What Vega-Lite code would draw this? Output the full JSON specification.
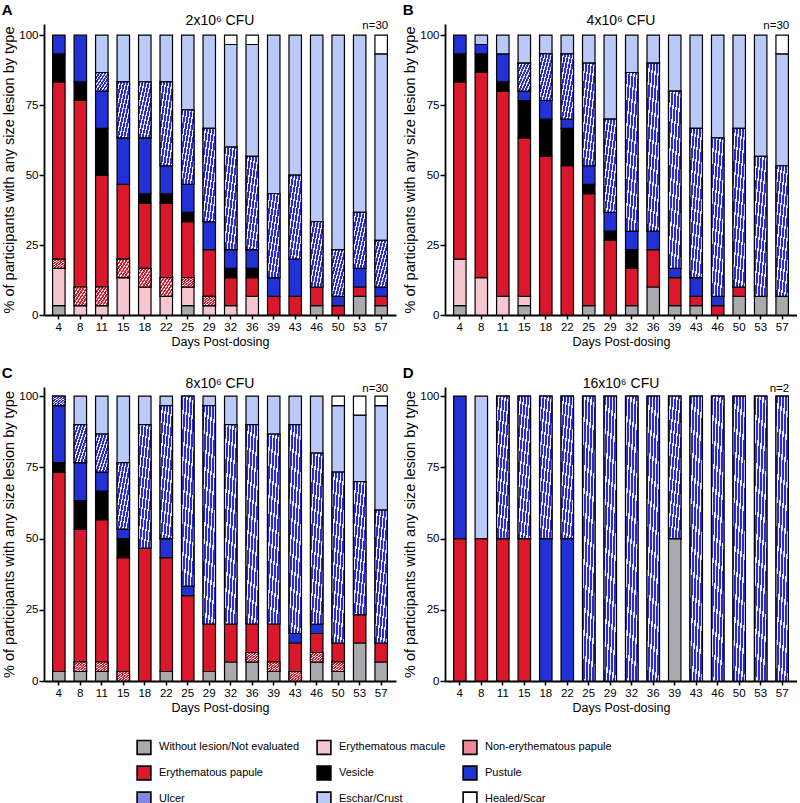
{
  "$schema": "https://vega.github.io/schema/vega-lite/v6.json",
  "background": "white",
  "padding": {"left": 1, "top": 3, "right": 0, "bottom": 0},
  "config": {
    "font": "Liberation Sans",
    "view": {"stroke": null},
    "axis": {"domainColor": "black", "domainWidth": 1.8, "tickColor": "black", "tickWidth": 1.5, "labelColor": "black", "titleColor": "black", "labelFont": "Liberation Sans", "titleFont": "Liberation Sans", "labelFontSize": 11.5, "titleFontWeight": "normal", "grid": false},
    "axisX": {"labelAngle": 0, "tickSize": 4, "labelPadding": 2, "titlePadding": 3, "titleFontSize": 12.5},
    "axisY": {"tickSize": 5, "labelPadding": 1, "titlePadding": 2, "titleFontSize": 14.5}
  },
  "datasets": {
    "types": [
      {"k": "wl", "o": 1, "type": "Without lesion/Not evaluated"},
      {"k": "em", "o": 2, "type": "Erythematous macule"},
      {"k": "np", "o": 3, "type": "Non-erythematous papule"},
      {"k": "ep", "o": 4, "type": "Erythematous papule"},
      {"k": "ve", "o": 5, "type": "Vesicle"},
      {"k": "pu", "o": 6, "type": "Pustule"},
      {"k": "ul", "o": 7, "type": "Ulcer"},
      {"k": "ec", "o": 8, "type": "Eschar/Crust"},
      {"k": "hs", "o": 9, "type": "Healed/Scar"}
    ],
    "A": [
      {"d": 4, "wl": 1, "em": 4, "np": 1, "ep": 19, "ve": 3, "pu": 2},
      {"d": 8, "em": 1, "np": 2, "ep": 20, "ve": 2, "pu": 5},
      {"d": 11, "em": 1, "np": 2, "ep": 12, "ve": 5, "pu": 4, "ul": 2, "ec": 4},
      {"d": 15, "em": 4, "np": 2, "ep": 8, "pu": 5, "ul": 6, "ec": 5},
      {"d": 18, "em": 3, "np": 2, "ep": 7, "ve": 1, "pu": 6, "ul": 6, "ec": 5},
      {"d": 22, "em": 2, "np": 2, "ep": 8, "ve": 1, "pu": 3, "ul": 9, "ec": 5},
      {"d": 25, "wl": 1, "em": 2, "np": 1, "ep": 6, "ve": 1, "pu": 3, "ul": 8, "ec": 8},
      {"d": 29, "em": 1, "np": 1, "ep": 5, "pu": 3, "ul": 10, "ec": 10},
      {"d": 32, "em": 1, "ep": 3, "ve": 1, "pu": 2, "ul": 11, "ec": 11, "hs": 1},
      {"d": 36, "em": 2, "ep": 2, "ve": 1, "pu": 2, "ul": 10, "ec": 12, "hs": 1},
      {"d": 39, "ep": 2, "pu": 2, "ul": 9, "ec": 17},
      {"d": 43, "ep": 2, "pu": 4, "ul": 9, "ec": 15},
      {"d": 46, "wl": 1, "ep": 2, "ul": 7, "ec": 20},
      {"d": 50, "ep": 1, "pu": 1, "ul": 5, "ec": 23},
      {"d": 53, "wl": 2, "ep": 1, "pu": 2, "ul": 6, "ec": 19},
      {"d": 57, "wl": 1, "ep": 1, "pu": 1, "ul": 5, "ec": 20, "hs": 2}
    ],
    "B": [
      {"d": 4, "wl": 1, "em": 5, "ep": 19, "ve": 3, "pu": 2},
      {"d": 8, "em": 4, "ep": 22, "ve": 2, "pu": 1, "ec": 1},
      {"d": 11, "em": 2, "ep": 22, "ve": 1, "pu": 3, "ec": 2},
      {"d": 15, "wl": 1, "em": 1, "ep": 17, "ve": 4, "pu": 1, "ul": 3, "ec": 3},
      {"d": 18, "ep": 17, "ve": 4, "pu": 2, "ul": 5, "ec": 2},
      {"d": 22, "ep": 16, "ve": 4, "pu": 1, "ul": 7, "ec": 2},
      {"d": 25, "wl": 1, "ep": 12, "ve": 1, "pu": 2, "ul": 11, "ec": 3},
      {"d": 29, "ep": 8, "ve": 1, "pu": 2, "ul": 10, "ec": 9},
      {"d": 32, "wl": 1, "ep": 4, "ve": 2, "pu": 2, "ul": 17, "ec": 4},
      {"d": 36, "wl": 3, "ep": 4, "pu": 2, "ul": 18, "ec": 3},
      {"d": 39, "wl": 1, "ep": 3, "pu": 1, "ul": 19, "ec": 6},
      {"d": 43, "wl": 1, "ep": 1, "pu": 2, "ul": 16, "ec": 10},
      {"d": 46, "ep": 1, "pu": 1, "ul": 17, "ec": 11},
      {"d": 50, "wl": 2, "ep": 1, "ul": 17, "ec": 10},
      {"d": 53, "wl": 2, "ul": 15, "ec": 13},
      {"d": 57, "wl": 2, "ul": 14, "ec": 12, "hs": 2}
    ],
    "C": [
      {"d": 4, "wl": 1, "ep": 21, "ve": 1, "pu": 6, "ul": 1},
      {"d": 8, "wl": 1, "np": 1, "ep": 14, "ve": 3, "pu": 4, "ul": 4, "ec": 3},
      {"d": 11, "wl": 1, "np": 1, "ep": 15, "ve": 3, "pu": 2, "ul": 4, "ec": 4},
      {"d": 15, "np": 1, "ep": 12, "ve": 2, "pu": 1, "ul": 7, "ec": 7},
      {"d": 18, "ep": 14, "ul": 13, "ec": 3},
      {"d": 22, "wl": 1, "ep": 12, "pu": 2, "ul": 14, "ec": 1},
      {"d": 25, "ep": 9, "pu": 1, "ul": 20},
      {"d": 29, "wl": 1, "ep": 5, "ul": 23, "ec": 1},
      {"d": 32, "wl": 2, "ep": 4, "ul": 21, "ec": 3},
      {"d": 36, "wl": 2, "np": 1, "ep": 3, "ul": 21, "ec": 3},
      {"d": 39, "wl": 1, "np": 1, "ep": 4, "ul": 20, "ec": 4},
      {"d": 43, "np": 1, "ep": 3, "pu": 1, "ul": 22, "ec": 3},
      {"d": 46, "wl": 2, "np": 1, "ep": 2, "pu": 1, "ul": 18, "ec": 6},
      {"d": 50, "wl": 1, "np": 1, "ep": 2, "ul": 18, "ec": 7, "hs": 1},
      {"d": 53, "wl": 4, "ep": 3, "ul": 14, "ec": 7, "hs": 2},
      {"d": 57, "wl": 2, "ep": 2, "ul": 14, "ec": 11, "hs": 1}
    ],
    "D": [
      {"d": 4, "ep": 1, "pu": 1},
      {"d": 8, "ep": 1, "ec": 1},
      {"d": 11, "ep": 1, "ul": 1},
      {"d": 15, "ep": 1, "ul": 1},
      {"d": 18, "pu": 1, "ul": 1},
      {"d": 22, "pu": 1, "ul": 1},
      {"d": 25, "ul": 2},
      {"d": 29, "ul": 2},
      {"d": 32, "ul": 2},
      {"d": 36, "ul": 2},
      {"d": 39, "wl": 1, "ul": 1},
      {"d": 43, "ul": 2},
      {"d": 46, "ul": 2},
      {"d": 50, "ul": 2},
      {"d": 53, "ul": 2},
      {"d": 57, "ul": 2}
    ]
  },
  "spacing": 18,
  "vconcat": [
    {
      "spacing": 6,
      "hconcat": [
        {
          "title": {"text": "A", "anchor": "start", "fontSize": 15, "fontWeight": "bold", "offset": -4},
          "vconcat": [{
            "title": {"text": "2x10⁶ CFU", "anchor": "middle", "frame": "group", "fontSize": 14, "fontWeight": "normal", "offset": -8},
            "width": 352, "height": 291,
            "layer": [
              {
                "data": {"name": "A"},
                "transform": [
                  {"fold": ["wl", "em", "np", "ep", "ve", "pu", "ul", "ec", "hs"], "as": ["k", "n"]},
                  {"filter": "datum.n > 0"},
                  {"lookup": "k", "from": {"data": {"name": "types"}, "key": "k", "fields": ["type", "o"]}},
                  {"stack": "n", "groupby": ["d"], "sort": [{"field": "o", "order": "ascending"}], "offset": "normalize", "as": ["y0", "y1"]}
                ],
                "layer": [
                  {
                    "mark": {"type": "bar", "stroke": "black", "strokeWidth": 1.2},
                    "encoding": {
                      "x": {"field": "d", "type": "ordinal", "title": "Days Post-dosing", "scale": {"paddingInner": 0.42, "paddingOuter": 0.4}},
                      "y": {"field": "y0", "type": "quantitative", "title": "% of participants with any size lesion by type", "scale": {"domain": [0, 1.04], "nice": false}, "axis": {"values": [0, 0.25, 0.5, 0.75, 1], "labelExpr": "format(datum.value*100,'d')"}},
                      "y2": {"field": "y1"},
                      "color": {
                        "field": "type", "type": "nominal",
                        "scale": {
                          "domain": ["Without lesion/Not evaluated", "Erythematous macule", "Non-erythematous papule", "Erythematous papule", "Vesicle", "Pustule", "Ulcer", "Eschar/Crust", "Healed/Scar"],
                          "range": ["#aaaaae", "#f6c6d1", "#eb8a95", "#d9192b", "#000000", "#2131d6", "#8585e6", "#bacaf8", "#ffffff"]
                        },
                        "legend": {"title": null, "orient": "none", "legendX": 92, "legendY": 715, "direction": "horizontal", "columns": 3, "symbolType": "square", "symbolSize": 190, "labelFontSize": 11, "labelFont": "Liberation Sans", "labelColor": "black", "columnPadding": 13, "rowPadding": 4, "labelOffset": 7, "labelLimit": 300, "symbolOpacity": 1, "symbolStrokeColor": "black", "symbolStrokeWidth": 1.6,
                          "encode": {"symbols": {"update": {"stroke": {"value": "black"}, "strokeWidth": {"value": 1.6}}}}
                        }
                      }
                    }
                  },
                  {
                    "transform": [{"filter": "datum.type === 'Ulcer'"}],
                    "mark": {"type": "bar", "stroke": "black", "strokeWidth": 1.2, "fill": {"gradient": "linear", "x1": 0, "y1": 0, "x2": 1, "y2": 1, "stops": [
                      {"offset": 0, "color": "#2b2bd3"}, {"offset": 0.075, "color": "#2b2bd3"}, {"offset": 0.075, "color": "#eeeeff"}, {"offset": 0.125, "color": "#eeeeff"},
                      {"offset": 0.125, "color": "#2b2bd3"}, {"offset": 0.2, "color": "#2b2bd3"}, {"offset": 0.2, "color": "#eeeeff"}, {"offset": 0.25, "color": "#eeeeff"},
                      {"offset": 0.25, "color": "#2b2bd3"}, {"offset": 0.325, "color": "#2b2bd3"}, {"offset": 0.325, "color": "#eeeeff"}, {"offset": 0.375, "color": "#eeeeff"},
                      {"offset": 0.375, "color": "#2b2bd3"}, {"offset": 0.45, "color": "#2b2bd3"}, {"offset": 0.45, "color": "#eeeeff"}, {"offset": 0.5, "color": "#eeeeff"},
                      {"offset": 0.5, "color": "#2b2bd3"}, {"offset": 0.575, "color": "#2b2bd3"}, {"offset": 0.575, "color": "#eeeeff"}, {"offset": 0.625, "color": "#eeeeff"},
                      {"offset": 0.625, "color": "#2b2bd3"}, {"offset": 0.7, "color": "#2b2bd3"}, {"offset": 0.7, "color": "#eeeeff"}, {"offset": 0.75, "color": "#eeeeff"},
                      {"offset": 0.75, "color": "#2b2bd3"}, {"offset": 0.825, "color": "#2b2bd3"}, {"offset": 0.825, "color": "#eeeeff"}, {"offset": 0.875, "color": "#eeeeff"},
                      {"offset": 0.875, "color": "#2b2bd3"}, {"offset": 0.95, "color": "#2b2bd3"}, {"offset": 0.95, "color": "#eeeeff"}, {"offset": 1, "color": "#eeeeff"}
                    ]}},
                    "encoding": {"x": {"field": "d", "type": "ordinal"}, "y": {"field": "y0", "type": "quantitative"}, "y2": {"field": "y1"}}
                  },
                  {
                    "transform": [{"filter": "datum.type === 'Non-erythematous papule'"}],
                    "mark": {"type": "bar", "stroke": "black", "strokeWidth": 1.2, "fill": {"gradient": "linear", "x1": 0, "y1": 0, "x2": 1, "y2": 1, "stops": [
                      {"offset": 0, "color": "#d9192b"}, {"offset": 0.075, "color": "#d9192b"}, {"offset": 0.075, "color": "#ffe4e8"}, {"offset": 0.125, "color": "#ffe4e8"},
                      {"offset": 0.125, "color": "#d9192b"}, {"offset": 0.2, "color": "#d9192b"}, {"offset": 0.2, "color": "#ffe4e8"}, {"offset": 0.25, "color": "#ffe4e8"},
                      {"offset": 0.25, "color": "#d9192b"}, {"offset": 0.325, "color": "#d9192b"}, {"offset": 0.325, "color": "#ffe4e8"}, {"offset": 0.375, "color": "#ffe4e8"},
                      {"offset": 0.375, "color": "#d9192b"}, {"offset": 0.45, "color": "#d9192b"}, {"offset": 0.45, "color": "#ffe4e8"}, {"offset": 0.5, "color": "#ffe4e8"},
                      {"offset": 0.5, "color": "#d9192b"}, {"offset": 0.575, "color": "#d9192b"}, {"offset": 0.575, "color": "#ffe4e8"}, {"offset": 0.625, "color": "#ffe4e8"},
                      {"offset": 0.625, "color": "#d9192b"}, {"offset": 0.7, "color": "#d9192b"}, {"offset": 0.7, "color": "#ffe4e8"}, {"offset": 0.75, "color": "#ffe4e8"},
                      {"offset": 0.75, "color": "#d9192b"}, {"offset": 0.825, "color": "#d9192b"}, {"offset": 0.825, "color": "#ffe4e8"}, {"offset": 0.875, "color": "#ffe4e8"},
                      {"offset": 0.875, "color": "#d9192b"}, {"offset": 0.95, "color": "#d9192b"}, {"offset": 0.95, "color": "#ffe4e8"}, {"offset": 1, "color": "#ffe4e8"}
                    ]}},
                    "encoding": {"x": {"field": "d", "type": "ordinal"}, "y": {"field": "y0", "type": "quantitative"}, "y2": {"field": "y1"}}
                  }
                ]
              },
              {
                "data": {"values": [{"label": "n=30"}]},
                "mark": {"type": "text", "align": "right", "baseline": "middle", "dx": 7, "dy": 2, "fontSize": 11.5, "font": "Liberation Sans", "color": "black"},
                "encoding": {"x": {"datum": 57, "type": "ordinal"}, "y": {"datum": 1.04, "type": "quantitative"}, "text": {"field": "label"}}
              }
            ]
          }]
        },
        {
          "title": {"text": "B", "anchor": "start", "fontSize": 15, "fontWeight": "bold", "offset": -4},
          "vconcat": [{
            "title": {"text": "4x10⁶ CFU", "anchor": "middle", "frame": "group", "fontSize": 14, "fontWeight": "normal", "offset": -8},
            "width": 352, "height": 291,
            "layer": [
              {
                "data": {"name": "B"},
                "transform": [
                  {"fold": ["wl", "em", "np", "ep", "ve", "pu", "ul", "ec", "hs"], "as": ["k", "n"]},
                  {"filter": "datum.n > 0"},
                  {"lookup": "k", "from": {"data": {"name": "types"}, "key": "k", "fields": ["type", "o"]}},
                  {"stack": "n", "groupby": ["d"], "sort": [{"field": "o", "order": "ascending"}], "offset": "normalize", "as": ["y0", "y1"]}
                ],
                "layer": [
                  {
                    "mark": {"type": "bar", "stroke": "black", "strokeWidth": 1.2},
                    "encoding": {
                      "x": {"field": "d", "type": "ordinal", "title": "Days Post-dosing", "scale": {"paddingInner": 0.42, "paddingOuter": 0.4}},
                      "y": {"field": "y0", "type": "quantitative", "title": "% of participants with any size lesion by type", "scale": {"domain": [0, 1.04], "nice": false}, "axis": {"values": [0, 0.25, 0.5, 0.75, 1], "labelExpr": "format(datum.value*100,'d')"}},
                      "y2": {"field": "y1"},
                      "color": {"field": "type", "type": "nominal"}
                    }
                  },
                  {
                    "transform": [{"filter": "datum.type === 'Ulcer'"}],
                    "mark": {"type": "bar", "stroke": "black", "strokeWidth": 1.2, "fill": {"gradient": "linear", "x1": 0, "y1": 0, "x2": 1, "y2": 1, "stops": [
                      {"offset": 0, "color": "#2b2bd3"}, {"offset": 0.075, "color": "#2b2bd3"}, {"offset": 0.075, "color": "#eeeeff"}, {"offset": 0.125, "color": "#eeeeff"},
                      {"offset": 0.125, "color": "#2b2bd3"}, {"offset": 0.2, "color": "#2b2bd3"}, {"offset": 0.2, "color": "#eeeeff"}, {"offset": 0.25, "color": "#eeeeff"},
                      {"offset": 0.25, "color": "#2b2bd3"}, {"offset": 0.325, "color": "#2b2bd3"}, {"offset": 0.325, "color": "#eeeeff"}, {"offset": 0.375, "color": "#eeeeff"},
                      {"offset": 0.375, "color": "#2b2bd3"}, {"offset": 0.45, "color": "#2b2bd3"}, {"offset": 0.45, "color": "#eeeeff"}, {"offset": 0.5, "color": "#eeeeff"},
                      {"offset": 0.5, "color": "#2b2bd3"}, {"offset": 0.575, "color": "#2b2bd3"}, {"offset": 0.575, "color": "#eeeeff"}, {"offset": 0.625, "color": "#eeeeff"},
                      {"offset": 0.625, "color": "#2b2bd3"}, {"offset": 0.7, "color": "#2b2bd3"}, {"offset": 0.7, "color": "#eeeeff"}, {"offset": 0.75, "color": "#eeeeff"},
                      {"offset": 0.75, "color": "#2b2bd3"}, {"offset": 0.825, "color": "#2b2bd3"}, {"offset": 0.825, "color": "#eeeeff"}, {"offset": 0.875, "color": "#eeeeff"},
                      {"offset": 0.875, "color": "#2b2bd3"}, {"offset": 0.95, "color": "#2b2bd3"}, {"offset": 0.95, "color": "#eeeeff"}, {"offset": 1, "color": "#eeeeff"}
                    ]}},
                    "encoding": {"x": {"field": "d", "type": "ordinal"}, "y": {"field": "y0", "type": "quantitative"}, "y2": {"field": "y1"}}
                  }
                ]
              },
              {
                "data": {"values": [{"label": "n=30"}]},
                "mark": {"type": "text", "align": "right", "baseline": "middle", "dx": 7, "dy": 2, "fontSize": 11.5, "font": "Liberation Sans", "color": "black"},
                "encoding": {"x": {"datum": 57, "type": "ordinal"}, "y": {"datum": 1.04, "type": "quantitative"}, "text": {"field": "label"}}
              }
            ]
          }]
        }
      ]
    },
    {
      "spacing": 6,
      "hconcat": [
        {
          "title": {"text": "C", "anchor": "start", "fontSize": 15, "fontWeight": "bold", "offset": -4},
          "vconcat": [{
            "title": {"text": "8x10⁶ CFU", "anchor": "middle", "frame": "group", "fontSize": 14, "fontWeight": "normal", "offset": -8},
            "width": 352, "height": 294,
            "layer": [
              {
                "data": {"name": "C"},
                "transform": [
                  {"fold": ["wl", "em", "np", "ep", "ve", "pu", "ul", "ec", "hs"], "as": ["k", "n"]},
                  {"filter": "datum.n > 0"},
                  {"lookup": "k", "from": {"data": {"name": "types"}, "key": "k", "fields": ["type", "o"]}},
                  {"stack": "n", "groupby": ["d"], "sort": [{"field": "o", "order": "ascending"}], "offset": "normalize", "as": ["y0", "y1"]}
                ],
                "layer": [
                  {
                    "mark": {"type": "bar", "stroke": "black", "strokeWidth": 1.2},
                    "encoding": {
                      "x": {"field": "d", "type": "ordinal", "title": "Days Post-dosing", "scale": {"paddingInner": 0.42, "paddingOuter": 0.4}},
                      "y": {"field": "y0", "type": "quantitative", "title": "% of participants with any size lesion by type", "scale": {"domain": [0, 1.032], "nice": false}, "axis": {"values": [0, 0.25, 0.5, 0.75, 1], "labelExpr": "format(datum.value*100,'d')"}},
                      "y2": {"field": "y1"},
                      "color": {"field": "type", "type": "nominal"}
                    }
                  },
                  {
                    "transform": [{"filter": "datum.type === 'Ulcer'"}],
                    "mark": {"type": "bar", "stroke": "black", "strokeWidth": 1.2, "fill": {"gradient": "linear", "x1": 0, "y1": 0, "x2": 1, "y2": 1, "stops": [
                      {"offset": 0, "color": "#2b2bd3"}, {"offset": 0.075, "color": "#2b2bd3"}, {"offset": 0.075, "color": "#eeeeff"}, {"offset": 0.125, "color": "#eeeeff"},
                      {"offset": 0.125, "color": "#2b2bd3"}, {"offset": 0.2, "color": "#2b2bd3"}, {"offset": 0.2, "color": "#eeeeff"}, {"offset": 0.25, "color": "#eeeeff"},
                      {"offset": 0.25, "color": "#2b2bd3"}, {"offset": 0.325, "color": "#2b2bd3"}, {"offset": 0.325, "color": "#eeeeff"}, {"offset": 0.375, "color": "#eeeeff"},
                      {"offset": 0.375, "color": "#2b2bd3"}, {"offset": 0.45, "color": "#2b2bd3"}, {"offset": 0.45, "color": "#eeeeff"}, {"offset": 0.5, "color": "#eeeeff"},
                      {"offset": 0.5, "color": "#2b2bd3"}, {"offset": 0.575, "color": "#2b2bd3"}, {"offset": 0.575, "color": "#eeeeff"}, {"offset": 0.625, "color": "#eeeeff"},
                      {"offset": 0.625, "color": "#2b2bd3"}, {"offset": 0.7, "color": "#2b2bd3"}, {"offset": 0.7, "color": "#eeeeff"}, {"offset": 0.75, "color": "#eeeeff"},
                      {"offset": 0.75, "color": "#2b2bd3"}, {"offset": 0.825, "color": "#2b2bd3"}, {"offset": 0.825, "color": "#eeeeff"}, {"offset": 0.875, "color": "#eeeeff"},
                      {"offset": 0.875, "color": "#2b2bd3"}, {"offset": 0.95, "color": "#2b2bd3"}, {"offset": 0.95, "color": "#eeeeff"}, {"offset": 1, "color": "#eeeeff"}
                    ]}},
                    "encoding": {"x": {"field": "d", "type": "ordinal"}, "y": {"field": "y0", "type": "quantitative"}, "y2": {"field": "y1"}}
                  },
                  {
                    "transform": [{"filter": "datum.type === 'Non-erythematous papule'"}],
                    "mark": {"type": "bar", "stroke": "black", "strokeWidth": 1.2, "fill": {"gradient": "linear", "x1": 0, "y1": 0, "x2": 1, "y2": 1, "stops": [
                      {"offset": 0, "color": "#d9192b"}, {"offset": 0.075, "color": "#d9192b"}, {"offset": 0.075, "color": "#ffe4e8"}, {"offset": 0.125, "color": "#ffe4e8"},
                      {"offset": 0.125, "color": "#d9192b"}, {"offset": 0.2, "color": "#d9192b"}, {"offset": 0.2, "color": "#ffe4e8"}, {"offset": 0.25, "color": "#ffe4e8"},
                      {"offset": 0.25, "color": "#d9192b"}, {"offset": 0.325, "color": "#d9192b"}, {"offset": 0.325, "color": "#ffe4e8"}, {"offset": 0.375, "color": "#ffe4e8"},
                      {"offset": 0.375, "color": "#d9192b"}, {"offset": 0.45, "color": "#d9192b"}, {"offset": 0.45, "color": "#ffe4e8"}, {"offset": 0.5, "color": "#ffe4e8"},
                      {"offset": 0.5, "color": "#d9192b"}, {"offset": 0.575, "color": "#d9192b"}, {"offset": 0.575, "color": "#ffe4e8"}, {"offset": 0.625, "color": "#ffe4e8"},
                      {"offset": 0.625, "color": "#d9192b"}, {"offset": 0.7, "color": "#d9192b"}, {"offset": 0.7, "color": "#ffe4e8"}, {"offset": 0.75, "color": "#ffe4e8"},
                      {"offset": 0.75, "color": "#d9192b"}, {"offset": 0.825, "color": "#d9192b"}, {"offset": 0.825, "color": "#ffe4e8"}, {"offset": 0.875, "color": "#ffe4e8"},
                      {"offset": 0.875, "color": "#d9192b"}, {"offset": 0.95, "color": "#d9192b"}, {"offset": 0.95, "color": "#ffe4e8"}, {"offset": 1, "color": "#ffe4e8"}
                    ]}},
                    "encoding": {"x": {"field": "d", "type": "ordinal"}, "y": {"field": "y0", "type": "quantitative"}, "y2": {"field": "y1"}}
                  }
                ]
              },
              {
                "data": {"values": [{"label": "n=30"}]},
                "mark": {"type": "text", "align": "right", "baseline": "middle", "dx": 7, "dy": 2, "fontSize": 11.5, "font": "Liberation Sans", "color": "black"},
                "encoding": {"x": {"datum": 57, "type": "ordinal"}, "y": {"datum": 1.032, "type": "quantitative"}, "text": {"field": "label"}}
              }
            ]
          }]
        },
        {
          "title": {"text": "D", "anchor": "start", "fontSize": 15, "fontWeight": "bold", "offset": -4},
          "vconcat": [{
            "title": {"text": "16x10⁶ CFU", "anchor": "middle", "frame": "group", "fontSize": 14, "fontWeight": "normal", "offset": -8},
            "width": 352, "height": 294,
            "layer": [
              {
                "data": {"name": "D"},
                "transform": [
                  {"fold": ["wl", "em", "np", "ep", "ve", "pu", "ul", "ec", "hs"], "as": ["k", "n"]},
                  {"filter": "datum.n > 0"},
                  {"lookup": "k", "from": {"data": {"name": "types"}, "key": "k", "fields": ["type", "o"]}},
                  {"stack": "n", "groupby": ["d"], "sort": [{"field": "o", "order": "ascending"}], "offset": "normalize", "as": ["y0", "y1"]}
                ],
                "layer": [
                  {
                    "mark": {"type": "bar", "stroke": "black", "strokeWidth": 1.2},
                    "encoding": {
                      "x": {"field": "d", "type": "ordinal", "title": "Days Post-dosing", "scale": {"paddingInner": 0.42, "paddingOuter": 0.4}},
                      "y": {"field": "y0", "type": "quantitative", "title": "% of participants with any size lesion by type", "scale": {"domain": [0, 1.032], "nice": false}, "axis": {"values": [0, 0.25, 0.5, 0.75, 1], "labelExpr": "format(datum.value*100,'d')"}},
                      "y2": {"field": "y1"},
                      "color": {"field": "type", "type": "nominal"}
                    }
                  },
                  {
                    "transform": [{"filter": "datum.type === 'Ulcer'"}],
                    "mark": {"type": "bar", "stroke": "black", "strokeWidth": 1.2, "fill": {"gradient": "linear", "x1": 0, "y1": 0, "x2": 1, "y2": 1, "stops": [
                      {"offset": 0, "color": "#2b2bd3"}, {"offset": 0.075, "color": "#2b2bd3"}, {"offset": 0.075, "color": "#eeeeff"}, {"offset": 0.125, "color": "#eeeeff"},
                      {"offset": 0.125, "color": "#2b2bd3"}, {"offset": 0.2, "color": "#2b2bd3"}, {"offset": 0.2, "color": "#eeeeff"}, {"offset": 0.25, "color": "#eeeeff"},
                      {"offset": 0.25, "color": "#2b2bd3"}, {"offset": 0.325, "color": "#2b2bd3"}, {"offset": 0.325, "color": "#eeeeff"}, {"offset": 0.375, "color": "#eeeeff"},
                      {"offset": 0.375, "color": "#2b2bd3"}, {"offset": 0.45, "color": "#2b2bd3"}, {"offset": 0.45, "color": "#eeeeff"}, {"offset": 0.5, "color": "#eeeeff"},
                      {"offset": 0.5, "color": "#2b2bd3"}, {"offset": 0.575, "color": "#2b2bd3"}, {"offset": 0.575, "color": "#eeeeff"}, {"offset": 0.625, "color": "#eeeeff"},
                      {"offset": 0.625, "color": "#2b2bd3"}, {"offset": 0.7, "color": "#2b2bd3"}, {"offset": 0.7, "color": "#eeeeff"}, {"offset": 0.75, "color": "#eeeeff"},
                      {"offset": 0.75, "color": "#2b2bd3"}, {"offset": 0.825, "color": "#2b2bd3"}, {"offset": 0.825, "color": "#eeeeff"}, {"offset": 0.875, "color": "#eeeeff"},
                      {"offset": 0.875, "color": "#2b2bd3"}, {"offset": 0.95, "color": "#2b2bd3"}, {"offset": 0.95, "color": "#eeeeff"}, {"offset": 1, "color": "#eeeeff"}
                    ]}},
                    "encoding": {"x": {"field": "d", "type": "ordinal"}, "y": {"field": "y0", "type": "quantitative"}, "y2": {"field": "y1"}}
                  }
                ]
              },
              {
                "data": {"values": [{"label": "n=2"}]},
                "mark": {"type": "text", "align": "right", "baseline": "middle", "dx": 7, "dy": 2, "fontSize": 11.5, "font": "Liberation Sans", "color": "black"},
                "encoding": {"x": {"datum": 57, "type": "ordinal"}, "y": {"datum": 1.032, "type": "quantitative"}, "text": {"field": "label"}}
              }
            ]
          }]
        }
      ]
    }
  ]
}
